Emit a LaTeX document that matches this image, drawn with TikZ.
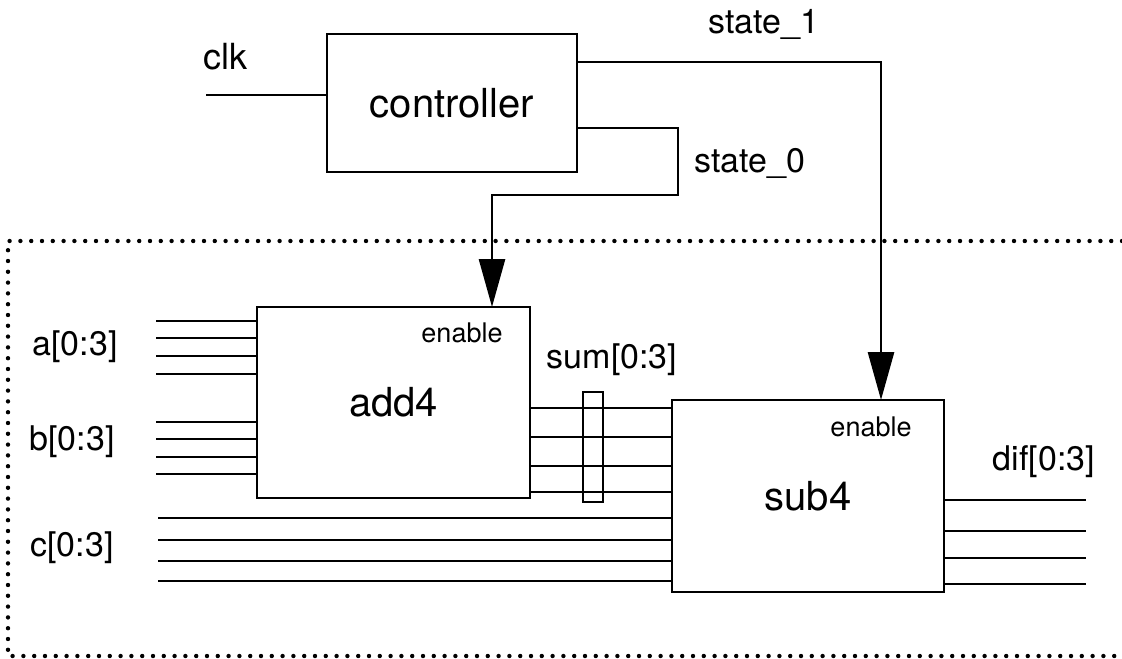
\documentclass[tikz,border=0pt]{standalone}
\usepackage{fontspec}
\setmainfont{TeX Gyre Heros}
\usetikzlibrary{positioning}
\usetikzlibrary{arrows.meta}
\tikzstyle{line} = [draw, line width=1.4pt]
\tikzstyle{enline} = [line, -{Triangle[length=24pt,width=13pt]}]

\begin{document}
\begin{tikzpicture}[x=0.5pt, y=-0.5pt]

	\tikzstyle{block} = [rectangle, draw, line width=1.4pt, inner sep=0pt, outer sep=0pt, font=\fontsize{20}{24}\selectfont]
	\tikzstyle{lbl} = [inner sep=0pt, font=\fontsize{17}{20}\selectfont]
	\tikzstyle{portlbl} = [inner sep=0pt, font=\fontsize{13.5}{16}\selectfont]
	\tikzstyle{border} = [line width=2.2pt, line cap=round, dash pattern=on 0pt off 5.4pt]

	\useasboundingbox (0,0) rectangle (1122,658);

	% Place nodes
	\node [block, minimum width=125pt, minimum height=69pt] (controller) at (452,103) {controller};
	\node [block, minimum width=136.5pt, minimum height=95.5pt] (add4) at (393.5,402.5) {add4};
	\node [block, minimum width=136pt, minimum height=96pt] (sub4) at (808,496) {sub4};
	\node [block, minimum width=10pt, minimum height=55pt] (sumbus) at (593,447) {};

	\node [portlbl] (add4en) at (462,333) {enable};
	\node [portlbl] (sub4en) at (871,427) {enable};

	\node [lbl, font=\fontsize{18}{21}\selectfont] (clklbl) at (225,57) {clk};
	\node [lbl] (s1lbl) at (764,24) {state\_1};
	\node [lbl] (s0lbl) at (750,163) {state\_0};
	\node [lbl] (albl) at (75,347) {a[0:3]};
	\node [lbl] (blbl) at (72,442) {b[0:3]};
	\node [lbl] (clbl) at (72,548) {c[0:3]};
	\node [lbl] (sumlbl) at (612,360) {sum[0:3]};
	\node [lbl] (diflbl) at (1044,462) {dif[0:3]};

	% datapath boundary
	\draw [border] (1122,241) -- (8,241) -- (8,656) -- (1122,656);

	% clock and control
	\coordinate (clk) at (206,95);
	\path [line] (clk) -- (clk -| controller.west);
	\path [enline] ([yshift=-14pt]controller.north east) -| ([xshift=-31.5pt]sub4.north east);
	\path [enline] ([yshift=-47pt]controller.north east) -- ++(101,0) -- ++(0,67) -| ([xshift=-19pt]add4.north east);

	% buses
	\foreach \y [count=\i] in {321,338,356,374} {
		\coordinate (a\i) at (156,\y);
		\path [line] (a\i) -- (a\i -| add4.west);
	}
	\foreach \y [count=\i] in {422,439,457,474} {
		\coordinate (b\i) at (156,\y);
		\path [line] (b\i) -- (b\i -| add4.west);
	}
	\foreach \y [count=\i] in {518,540,561,581} {
		\coordinate (c\i) at (158,\y);
		\path [line] (c\i) -- (c\i -| sub4.west);
	}
	\foreach \y in {408,437,466,492}
		\path [line] (add4.east |- 0,\y) -- (sub4.west |- 0,\y);
	\foreach \y [count=\i] in {500,531,558,584} {
		\coordinate (d\i) at (1086,\y);
		\path [line] (sub4.east |- d\i) -- (d\i);
	}

\end{tikzpicture}
\end{document}
